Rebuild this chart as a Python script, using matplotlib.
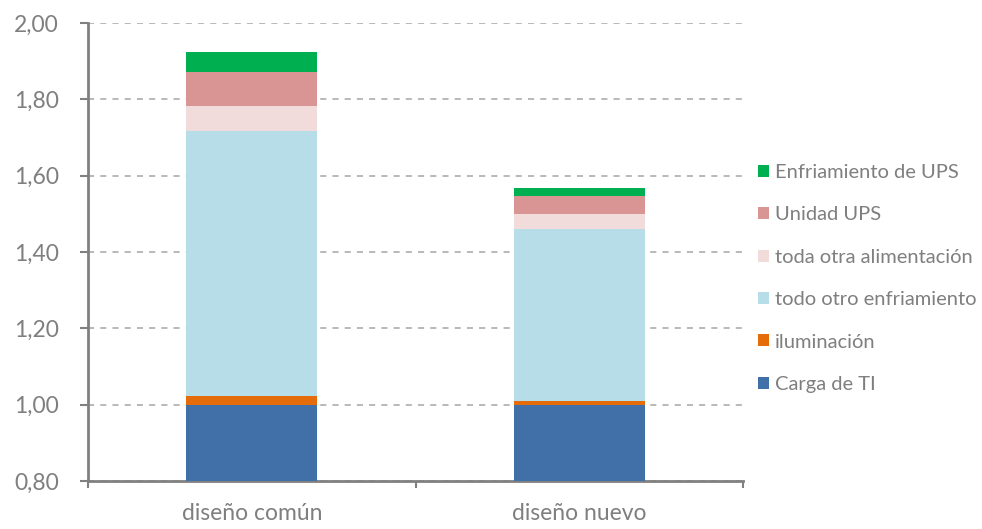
import matplotlib
matplotlib.use("Agg")
import matplotlib.pyplot as plt
from matplotlib.patches import Patch
import numpy as np

plt.rcParams['font.family'] = ['Lato', 'DejaVu Sans']

categories = ['diseño común', 'diseño nuevo']
series = ['Carga de TI', 'iluminación', 'todo otro enfriamiento',
          'toda otra alimentación', 'Unidad UPS', 'Enfriamiento de UPS']
carga_ti = [1.00, 1.00]
iluminacion = [0.022, 0.010]
otro_enfriamiento = [0.696, 0.450]
otra_alimentacion = [0.065, 0.040]
unidad_ups = [0.088, 0.048]
enfriamiento_ups = [0.052, 0.020]
colors = ['#4170A8', '#E46C0A', '#B7DDE8', '#F2DCDB', '#D99594', '#00B050']

values = [carga_ti, iluminacion, otro_enfriamiento, otra_alimentacion,
          unidad_ups, enfriamiento_ups]

gray = '#7F7F7F'
fig = plt.figure(figsize=(9.82, 5.29), dpi=100)
ax = fig.add_axes([88 / 982, 1 - 481 / 529, (743 - 88) / 982, (481 - 23) / 529])

x = np.arange(len(categories))
bottom = np.zeros(len(categories))
for vals, col in zip(values, colors):
    ax.bar(x, vals, width=0.4, bottom=bottom, color=col, zorder=3)
    bottom += np.array(vals)

ax.set_ylim(0.8, 2.0)
ax.set_xlim(-0.5, 1.5)
ax.set_yticks(np.arange(0.8, 2.01, 0.2))
ax.set_yticklabels([f'{v:.2f}'.replace('.', ',') for v in np.arange(0.8, 2.01, 0.2)])
ax.grid(axis='y', color='#A6A6A6', linestyle=(0, (4, 4)), linewidth=1.1, zorder=0)

ax.set_xticks(x)
ax.set_xticklabels(categories)
ax.set_xticks([-0.5, 0.5, 1.5], minor=True)
ax.tick_params(axis='x', which='major', length=0, pad=16, labelsize=16.5, labelcolor=gray)
ax.tick_params(axis='x', which='minor', length=5, width=1.5, color='#808080')
ax.tick_params(axis='y', length=6, width=1.5, color='#808080', pad=15,
               labelsize=16.5, labelcolor=gray)

for side in ['top', 'right']:
    ax.spines[side].set_visible(False)
for side in ['left', 'bottom']:
    ax.spines[side].set_color('#808080')
    ax.spines[side].set_linewidth(2)

handles = [Patch(facecolor=c, label=s) for s, c in zip(series, colors)][::-1]
fig.legend(handles=handles, loc='upper left', bbox_to_anchor=(750 / 982, 1 - 156 / 529),
           frameon=False, fontsize=14.5, labelcolor=gray, handlelength=0.55,
           handleheight=0.55, handletextpad=0.3, labelspacing=1.26, borderaxespad=0)

fig.savefig('out.png', dpi=100)
